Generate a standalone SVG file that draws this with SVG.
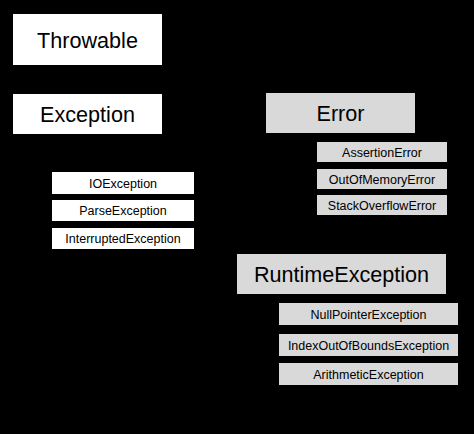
<svg xmlns="http://www.w3.org/2000/svg" width="474" height="434" viewBox="0 0 474 434">
<style>
.w{fill:#ffffff}
.g{fill:#d9d9d9}
text{font-family:"Liberation Sans",Arial,sans-serif;fill:#000;text-anchor:middle}
.big{font-size:21.6px}
.sm{font-size:12.5px}
</style>
<rect x="0" y="0" width="474" height="434" fill="#000"/>
<g id="connectors"/>
<g id="throwable"><rect class="w" x="13" y="14" width="149" height="51"/><text class="big" x="87.5" y="47.5">Throwable</text></g>
<g id="exception"><rect class="w" x="13" y="94" width="149" height="40"/><text class="big" x="87.5" y="121.7">Exception</text></g>
<g id="error"><rect class="g" x="266" y="93" width="149" height="40"/><text class="big" x="340.5" y="120.7">Error</text></g>
<g id="assertionerror"><rect class="g" x="317" y="142" width="130" height="20"/><text class="sm" x="382" y="156.5">AssertionError</text></g>
<g id="outofmemoryerror"><rect class="g" x="317" y="169" width="130" height="20"/><text class="sm" x="382" y="183.5">OutOfMemoryError</text></g>
<g id="stackoverflowerror"><rect class="g" x="317" y="195" width="130" height="20"/><text class="sm" x="382" y="209.5">StackOverflowError</text></g>
<g id="ioexception"><rect class="w" x="52" y="172" width="142" height="22"/><text class="sm" x="123" y="187.5">IOException</text></g>
<g id="parseexception"><rect class="w" x="52" y="200" width="142" height="21"/><text class="sm" x="123" y="215">ParseException</text></g>
<g id="interruptedexception"><rect class="w" x="52" y="228" width="142" height="21"/><text class="sm" x="123" y="243">InterruptedException</text></g>
<g id="runtimeexception"><rect class="g" x="237" y="254" width="209" height="40"/><text class="big" x="341.5" y="281.7">RuntimeException</text></g>
<g id="nullpointerexception"><rect class="g" x="279" y="303" width="179" height="22"/><text class="sm" x="368.5" y="318.5">NullPointerException</text></g>
<g id="indexoutofboundsexception"><rect class="g" x="279" y="334" width="179" height="22"/><text class="sm" x="368.5" y="349.5">IndexOutOfBoundsException</text></g>
<g id="arithmeticexception"><rect class="g" x="279" y="363" width="179" height="22"/><text class="sm" x="368.5" y="378.5">ArithmeticException</text></g>
</svg>
